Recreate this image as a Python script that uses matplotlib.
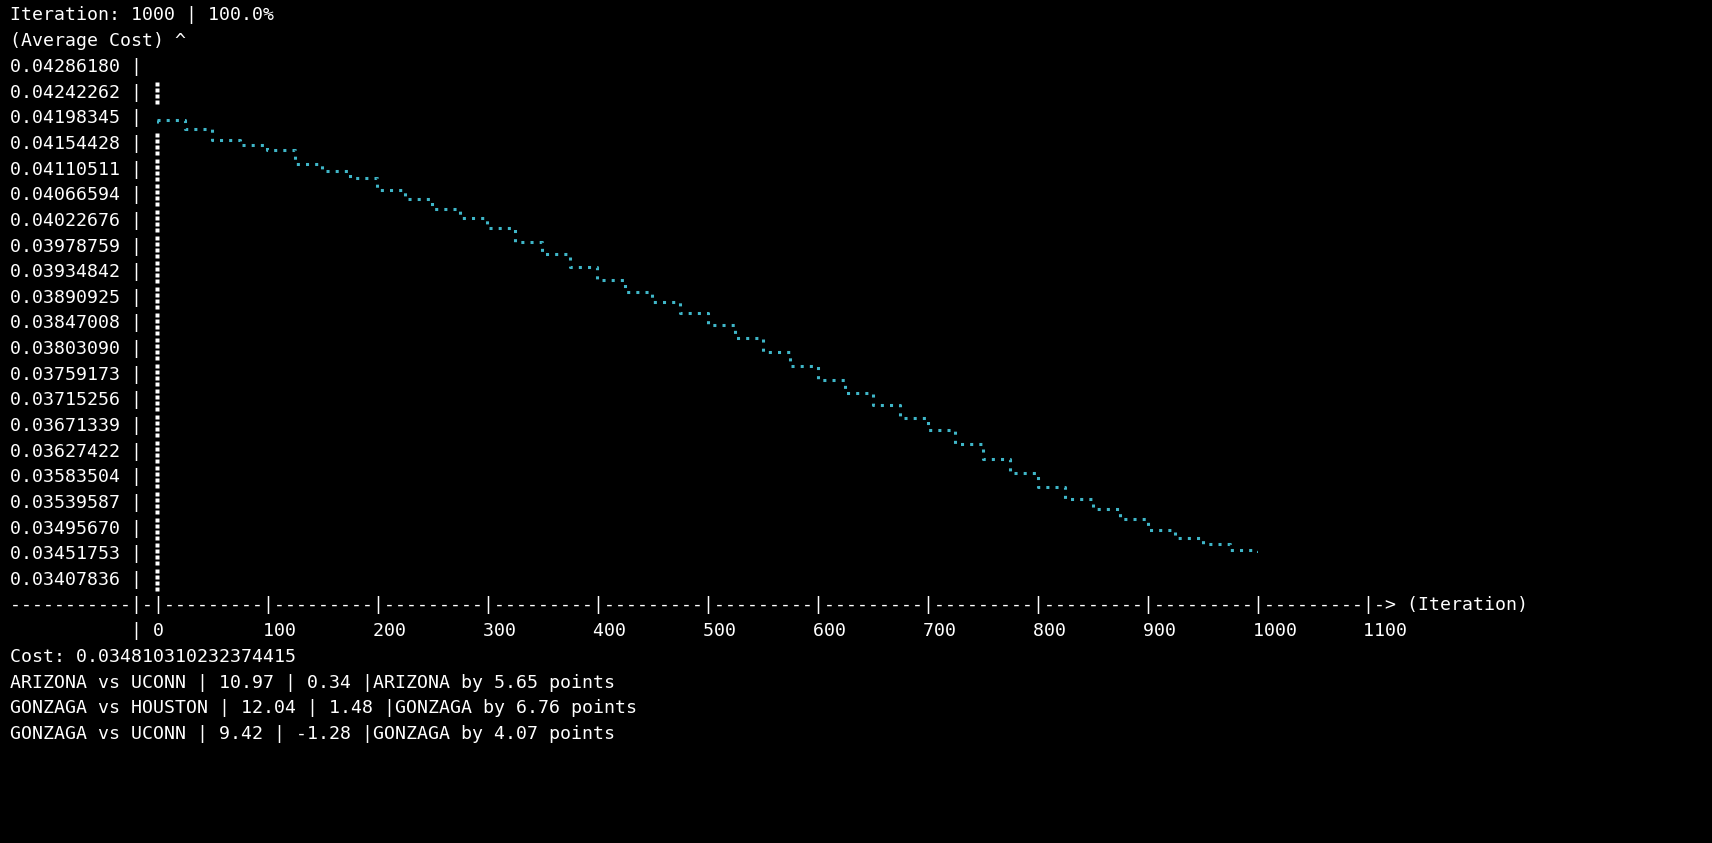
import matplotlib
matplotlib.use("Agg")
import matplotlib.pyplot as plt

W, H = 1712, 843
iterations = list(range(0, 1001, 25))
costs = [0.04195, 0.04180, 0.04161, 0.04152, 0.04143, 0.04120, 0.04107, 0.04095, 0.04075,
         0.04060, 0.04043, 0.04027, 0.04010, 0.03985, 0.03965, 0.03943, 0.03921, 0.03900,
         0.03882, 0.03863, 0.03843, 0.03820, 0.03797, 0.03773, 0.03749, 0.03727, 0.03705,
         0.03684, 0.03663, 0.03638, 0.03613, 0.03589, 0.03565, 0.03545, 0.03527, 0.03510,
         0.03491, 0.03477, 0.03467, 0.03457, 0.03452]
y_ticks = ["0.04286180", "0.04242262", "0.04198345", "0.04154428", "0.04110511", "0.04066594",
           "0.04022676", "0.03978759", "0.03934842", "0.03890925", "0.03847008", "0.03803090",
           "0.03759173", "0.03715256", "0.03671339", "0.03627422", "0.03583504", "0.03539587",
           "0.03495670", "0.03451753", "0.03407836"]
x_ticks = [0, 100, 200, 300, 400, 500, 600, 700, 800, 900, 1000, 1100]
footer = ["Cost: 0.034810310232374415",
          "ARIZONA vs UCONN | 10.97 | 0.34 |ARIZONA by 5.65 points",
          "GONZAGA vs HOUSTON | 12.04 | 1.48 |GONZAGA by 6.76 points",
          "GONZAGA vs UCONN | 9.42 | -1.28 |GONZAGA by 4.07 points"]

fig = plt.figure(figsize=(W/100, H/100), dpi=100, facecolor="black")
FS = 13.15
mono = dict(family=["DejaVu Sans Mono"], fontsize=FS, color="white", va="center", ha="left")

# overlay axes in pixel coordinates for the left axis dots
ov = fig.add_axes([0, 0, 1, 1])
ov.set_xlim(0, W); ov.set_ylim(H, 0); ov.axis("off")

def T(x, y, s, **kw):
    d = dict(mono); d.update(kw)
    fig.text(x/W, 1 - y/H, s, **d)

T(10, 15, "Iteration: 1000 | 100.0%")
T(10, 41, "(Average Cost) ^")
row = 25.65
for i, lab in enumerate(y_ticks):
    y = 67 + i*row
    T(10, y, lab + " |")
    if i != 0 and i != 2:
        ov.plot([157]*4, [y - 9, y - 3, y + 3, y + 9], ls="none", marker="s",
                ms=2.2, color="white", mec="none")

axis_line = "-----------|-|" + "---------|"*10 + "---------|-> (Iteration)"
T(10, 605, axis_line)
s = list(" "*11 + "|")
cols = [13 + 10*k for k in range(len(x_ticks))]
for c, v in zip(cols, x_ticks):
    while len(s) < c:
        s.append(" ")
    s.extend(str(v))
T(10, 631, "".join(s))
for k, line in enumerate(footer):
    T(10, 657 + k*row, line)

# data axes
x0, x1 = 157, 1258
ytop, ybot = 118, 553
ax = fig.add_axes([x0/W, 1 - ybot/H, (x1-x0)/W, (ybot-ytop)/H])
ax.set_facecolor("none")
ax.plot(iterations, costs, drawstyle="steps-post", linestyle=(0, (1, 2)),
        color="#3fb6c8", lw=2.2)
ax.plot([0, 0], [costs[0], 0.04198345 - 0.0001], linestyle=(0, (1, 2)), color="#3fb6c8", lw=2.2)
ax.set_xlim(0, 1000)
ax.set_ylim(0.03451753, 0.04198345)
ax.axis("off")

fig.savefig("out.png", dpi=100, facecolor="black")
